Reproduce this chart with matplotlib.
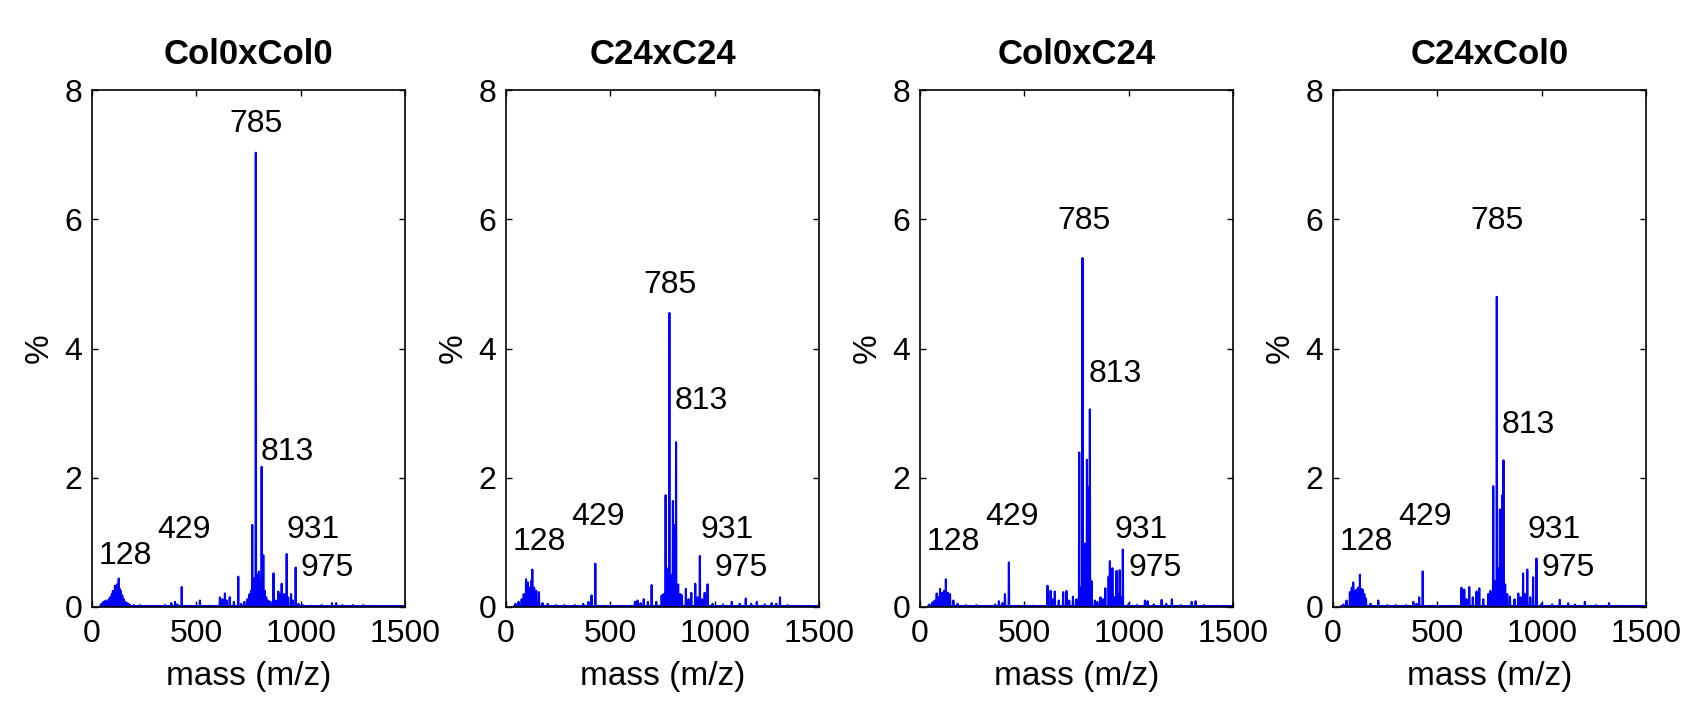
import numpy as np
from matplotlib import pyplot as plt

plt.rcParams['font.family'] = ['Liberation Sans', 'DejaVu Sans']

titles = ['Col0xCol0', 'C24xC24', 'Col0xC24', 'C24xCol0']

# peak lists (mass, % intensity)
mass1 = [45, 55, 65, 72, 80, 88, 95, 100, 105, 110, 115, 120, 125, 128, 133, 138, 145, 152, 160, 170, 180,
         200, 230, 260, 300, 350, 380, 398, 410, 430, 470, 517, 560, 613, 625, 637, 645, 660, 680, 701, 715,
         730, 745, 755, 762, 768, 775, 780, 785, 790, 795, 800, 805, 810, 813, 818, 821, 828, 835, 845, 855,
         870, 880, 893, 900, 909, 915, 922, 933, 940, 954, 962, 976, 990, 1010, 1050, 1100, 1150, 1170, 1200,
         1250, 1300, 1350]
int1 = [0.05, 0.08, 0.1, 0.08, 0.12, 0.15, 0.2, 0.25, 0.22, 0.33, 0.3, 0.35, 0.3, 0.44, 0.28, 0.25, 0.18, 0.12,
        0.08, 0.06, 0.04, 0.03, 0.03, 0.02, 0.02, 0.03, 0.06, 0.08, 0.04, 0.31, 0.02, 0.1, 0.02, 0.15, 0.12, 0.21,
        0.1, 0.15, 0.08, 0.47, 0.05, 0.08, 0.12, 0.2, 0.25, 1.27, 0.3, 0.45, 7.03, 0.5, 0.4, 0.55, 0.35, 0.4, 2.17,
        0.3, 0.8, 0.25, 0.15, 0.1, 0.08, 0.52, 0.1, 0.24, 0.2, 0.36, 0.15, 0.2, 0.82, 0.15, 0.2, 0.1, 0.61, 0.05,
        0.03, 0.02, 0.03, 0.06, 0.06, 0.03, 0.03, 0.03, 0.02]

mass2 = [45, 60, 75, 85, 96, 105, 112, 120, 126, 135, 145, 158, 175, 200, 240, 280, 330, 370, 395, 410, 428,
         470, 540, 618, 630, 645, 660, 680, 698, 720, 746, 755, 765, 772, 778, 783, 790, 795, 800, 808, 815,
         825, 835, 843, 862, 875, 888, 907, 918, 929, 940, 952, 966, 990, 1040, 1082, 1120, 1149, 1175, 1202,
         1240, 1273, 1295, 1313, 1350, 1400]
int2 = [0.05, 0.08, 0.12, 0.2, 0.43, 0.38, 0.3, 0.4, 0.58, 0.3, 0.25, 0.23, 0.06, 0.05, 0.03, 0.03, 0.03,
        0.05, 0.08, 0.18, 0.67, 0.02, 0.02, 0.08, 0.1, 0.06, 0.12, 0.08, 0.34, 0.08, 0.18, 0.2, 1.73, 0.3,
        0.6, 4.55, 0.5, 0.35, 1.64, 1.27, 2.55, 0.35, 0.2, 0.18, 0.28, 0.12, 0.22, 0.36, 0.15, 0.79, 0.12,
        0.22, 0.35, 0.05, 0.04, 0.08, 0.05, 0.13, 0.05, 0.08, 0.04, 0.06, 0.05, 0.15, 0.03, 0.02]

mass3 = [45, 60, 70, 80, 88, 96, 105, 115, 124, 134, 144, 160, 180, 220, 270, 320, 360, 378, 395, 407, 426,
         470, 540, 611, 626, 636, 646, 665, 686, 702, 715, 733, 750, 763, 770, 779, 789, 795, 800, 806, 814,
         822, 838, 850, 865, 878, 888, 904, 910, 916, 922, 932, 942, 950, 957, 965, 972, 1000, 1040, 1078,
         1091, 1120, 1158, 1180, 1207, 1250, 1302, 1321, 1360, 1420]
int3 = [0.04, 0.07, 0.1, 0.21, 0.15, 0.28, 0.22, 0.25, 0.43, 0.22, 0.2, 0.1, 0.05, 0.03, 0.03, 0.02, 0.04,
        0.09, 0.06, 0.2, 0.69, 0.02, 0.02, 0.33, 0.25, 0.12, 0.24, 0.1, 0.23, 0.25, 0.1, 0.16, 0.12, 2.39,
        0.3, 5.4, 0.98, 0.5, 2.28, 1.86, 3.06, 0.4, 0.1, 0.08, 0.15, 0.12, 0.29, 0.47, 0.71, 0.2, 0.6, 0.15,
        0.56, 0.2, 0.57, 0.15, 0.89, 0.05, 0.03, 0.1, 0.09, 0.04, 0.11, 0.05, 0.12, 0.03, 0.08, 0.09, 0.03, 0.02]

mass4 = [50, 65, 81, 90, 97, 105, 113, 120, 129, 135, 142, 150, 158, 180, 217, 260, 300, 350, 385, 400, 413,
         430, 480, 560, 616, 629, 640, 653, 670, 688, 701, 720, 744, 755, 768, 775, 785, 792, 800, 805, 811,
         817, 825, 835, 848, 870, 888, 900, 911, 920, 931, 945, 959, 975, 1000, 1050, 1087, 1127, 1160, 1207,
         1260, 1323, 1380]
int4 = [0.04, 0.1, 0.23, 0.3, 0.38, 0.25, 0.27, 0.3, 0.5, 0.28, 0.27, 0.2, 0.13, 0.05, 0.1, 0.03, 0.03,
        0.03, 0.08, 0.05, 0.15, 0.55, 0.02, 0.02, 0.3, 0.27, 0.12, 0.31, 0.15, 0.24, 0.29, 0.12, 0.2, 0.25,
        1.87, 0.4, 4.8, 0.6, 1.51, 0.9, 1.73, 2.27, 0.35, 0.2, 0.16, 0.12, 0.21, 0.15, 0.52, 0.2, 0.58, 0.15,
        0.46, 0.75, 0.05, 0.04, 0.11, 0.06, 0.04, 0.08, 0.03, 0.06, 0.02]

masses = [mass1, mass2, mass3, mass4]
intens = [int1, int2, int3, int4]

# label text and where it sits (mass, %)
labels = ['785', '813', '931', '975', '128', '429']
label_x = [785, 810, 931, 1000, 34, 313]
label_y = [[7.48, 2.4, 1.19, 0.6, 0.79, 1.19],
           [4.98, 3.18, 1.19, 0.6, 1.0, 1.39],
           [5.98, 3.6, 1.19, 0.6, 1.0, 1.39],
           [5.98, 2.82, 1.19, 0.6, 1.0, 1.39]]

fig = plt.figure(figsize=(16.88, 7.03), dpi=100)
lefts = [92, 506, 920, 1333]

for k in range(4):
    ax = fig.add_axes([lefts[k] / 1688, 96 / 703, 313 / 1688, 517 / 703])
    # build the stick profile on a flat baseline
    xs = [40]
    ys = [0.015]
    for m, h in zip(masses[k], intens[k]):
        xs += [m - 1.5, m, m + 1.5]
        ys += [0.015, h, 0.015]
    xs.append(1500)
    ys.append(0.015)
    ax.plot(xs, ys, color='#0000ff', lw=1.5)
    ax.set_xlim(0, 1500)
    ax.set_ylim(0, 8)
    ax.set_xticks([0, 500, 1000, 1500])
    ax.set_yticks([0, 2, 4, 6, 8])
    ax.tick_params(direction='in', length=4, width=1, top=True, right=True, labelsize=23)
    ax.tick_params(axis='x', pad=9)
    ax.tick_params(axis='y', pad=7)
    for s in ax.spines.values():
        s.set_linewidth(1.2)
    ax.set_title(titles[k], fontsize=25, fontweight='bold', pad=19)
    ax.set_xlabel('mass (m/z)', fontsize=24)
    ax.set_ylabel('%', fontsize=24)
    ax.xaxis.set_label_coords(0.5, -0.105)
    ax.yaxis.set_label_coords(-0.12, 0.5)
    for j in range(len(labels)):
        ha = 'center' if j == 0 else 'left'
        ax.text(label_x[j], label_y[k][j], labels[j], fontsize=23, ha=ha, va='center')

plt.savefig('out.png', dpi=100)
